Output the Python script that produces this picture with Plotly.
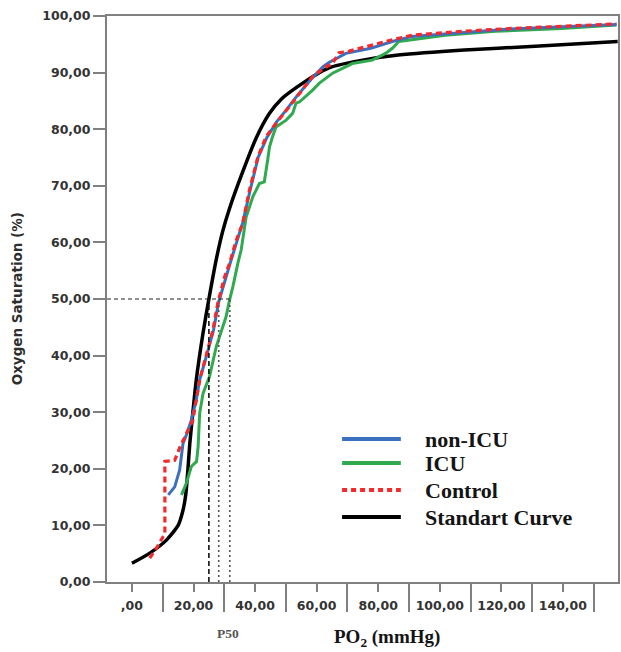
import plotly.graph_objects as go

# ---- data ----
std_x = [0, 5.8, 11.2, 15, 16.6, 17.5, 18.2, 18.8, 19.8, 20.9, 23.1, 25.0, 27.4, 29.5, 31.7, 36, 40.4, 44.7, 48.5, 53, 60.6, 64.9, 75, 86.5, 108, 129.6, 157.8]
std_y = [3.3, 5.1, 7.4, 10, 12.7, 15.5, 20, 24.5, 30, 35.7, 44, 50, 57, 62, 66, 72.5, 78.5, 82.8, 85.3, 87.2, 89.9, 91, 92.2, 93.1, 94, 94.6, 95.5]

ctrl_x = [5.8, 8, 10.1, 10.7, 10.7, 13.9, 15.5, 17.7, 19.8, 22, 24, 26.3, 27.9, 30.1, 31.7, 33.9, 36, 38.2, 40.9, 43.6, 46.8, 50.1, 53.3, 58.7, 63, 65, 67.3, 70.6, 76, 80.3, 84.6, 91, 107.2, 123.4, 139.6, 157.4]
ctrl_y = [4.2, 6, 8.0, 8.5, 21.3, 21.5, 23.7, 26.3, 28.6, 35.7, 40, 44.5, 49.3, 53.9, 56.3, 60.4, 63.4, 69.3, 75.1, 78.7, 81, 83.4, 85.5, 89.3, 91, 91.5, 93.5, 93.8, 94.6, 95.2, 95.8, 96.6, 97.3, 97.8, 98.2, 98.6]

nonicu_x = [11.8, 13.9, 15.5, 16.6, 17.7, 19.3, 20.9, 22, 24, 26.5, 28.2, 30.3, 32, 34, 36, 38.3, 41, 43.8, 47, 50.3, 53.5, 58.5, 62, 64, 69.5, 77.6, 84.6, 91, 107, 123, 140, 157.4]
nonicu_y = [15.4, 16.8, 19.8, 24.5, 26, 28.6, 32.2, 35.7, 39.5, 44.5, 49.5, 53.5, 56.5, 60, 63.5, 69, 75, 78.5, 81.3, 83.5, 85.8, 89.0, 91, 91.8, 93.4, 94.3, 95.5, 96.4, 97.1, 97.7, 98.1, 98.5]

icu_x = [16.1, 17.7, 19.3, 21, 21.5, 22, 23.1, 24.7, 25.2, 27.4, 30.6, 31.7, 32.8, 34.4, 35.5, 37.1, 39.3, 41.4, 43, 44.1, 44.7, 45.7, 46.8, 50.1, 52.2, 53.3, 54.4, 58.7, 60.8, 65.2, 71.6, 78.1, 82.4, 84.6, 86.7, 101.8, 118, 139.6, 157.4]
icu_y = [15.4, 17.5, 20.4, 21.3, 23.9, 29.8, 33.3, 35.7, 36.3, 41.6, 46.9, 49.8, 52.2, 56.3, 58.7, 64.5, 68.1, 70.4, 70.7, 74.6, 76.9, 78.7, 80.4, 81.6, 82.8, 84.6, 84.8, 86.9, 88.1, 89.9, 91.6, 92.2, 93.4, 94.3, 95.5, 96.6, 97.3, 97.8, 98.4]

p50_std = 25.0
p50_groups = [28.2, 31.8]
sat50 = 50

x_ticks = [0, 20, 40, 60, 80, 100, 120, 140]
x_labels = [",00", "20,00", "40,00", "60,00", "80,00", "100,00", "120,00", "140,00"]
x_minor = [10, 30, 50, 70, 90, 110, 130, 150]
y_ticks = [0, 10, 20, 30, 40, 50, 60, 70, 80, 90, 100]
y_labels = ["0,00", "10,00", "20,00", "30,00", "40,00", "50,00", "60,00", "70,00", "80,00", "90,00", "100,00"]

legend_names = ["non-ICU", "ICU", "Control", "Standart Curve"]
BLUE = "#3b6fc0"
GREEN = "#2faa4e"
RED = "#f5282a"
BLACK = "#000000"

fig = go.Figure()
fig.add_trace(go.Scatter(x=std_x, y=std_y, mode="lines", line=dict(color=BLACK, width=3.5, shape="spline", smoothing=0.6), showlegend=False))
fig.add_trace(go.Scatter(x=icu_x, y=icu_y, mode="lines", line=dict(color=GREEN, width=3), showlegend=False))
fig.add_trace(go.Scatter(x=nonicu_x, y=nonicu_y, mode="lines", line=dict(color=BLUE, width=3), showlegend=False))
fig.add_trace(go.Scatter(x=ctrl_x, y=ctrl_y, mode="lines", line=dict(color=RED, width=3.2, dash="6px,4px"), showlegend=False))

# reference lines
fig.add_shape(type="line", xref="x", yref="y", x0=-8.1, x1=p50_groups[-1], y0=sat50, y1=sat50,
              line=dict(color="#222", width=1.2, dash="4px,3px"))
fig.add_shape(type="line", xref="x", yref="y", x0=p50_std, x1=p50_std, y0=0, y1=sat50,
              line=dict(color="#111", width=1.6, dash="5px,3px"))
for p in p50_groups:
    fig.add_shape(type="line", xref="x", yref="y", x0=p, x1=p, y0=0, y1=sat50,
                  line=dict(color="#555", width=1.6, dash="2px,3px"))

# custom legend
L, T, H = 107, 16, 566
W = 513
def px_x(p):
    return (p - L) / W
def px_y(p):
    return (T + H - p) / H
leg_rows = [439, 463, 490, 517]
leg_styles = [dict(color=BLUE, width=4), dict(color=GREEN, width=4),
              dict(color=RED, width=4, dash="5px,4px"), dict(color=BLACK, width=4)]
for name, row, st in zip(legend_names, leg_rows, leg_styles):
    fig.add_shape(type="line", xref="paper", yref="paper", x0=px_x(343), x1=px_x(402),
                  y0=px_y(row), y1=px_y(row), line=st)
    fig.add_annotation(xref="paper", yref="paper", x=px_x(424), y=px_y(row), xanchor="left",
                       yanchor="middle", text="<b>" + name + "</b>", showarrow=False,
                       font=dict(family="Liberation Serif", size=22, color="#141414"))

# titles
fig.add_annotation(xref="paper", yref="paper", x=px_x(17), y=0.5, textangle=-90, showarrow=False,
                   text="<b>Oxygen Saturation (%)</b>", xanchor="center", yanchor="middle",
                   font=dict(family="DejaVu Sans", size=13.5, color="#2e2e2e"))
fig.add_annotation(xref="paper", yref="paper", x=px_x(388), y=px_y(638), showarrow=False,
                   text="<b>PO<sub>2</sub> (mmHg)</b>", xanchor="center", yanchor="middle",
                   font=dict(family="Liberation Serif", size=19, color="#141414"))
fig.add_annotation(xref="paper", yref="paper", x=px_x(228), y=px_y(633), showarrow=False,
                   text="<b>P50</b>", xanchor="center", yanchor="middle",
                   font=dict(family="Liberation Serif", size=13.5, color="#555"))

axis_col = "#808080"
fig.update_layout(
    width=621, height=652,
    margin=dict(l=107, r=1, t=16, b=70),
    plot_bgcolor="white", paper_bgcolor="white",
    xaxis=dict(range=[-8.1, 157.9], showgrid=False, zeroline=False,
               showline=True, linecolor=axis_col, linewidth=2, mirror=True,
               tickmode="array", tickvals=x_ticks, ticktext=x_labels,
               ticks="outside", ticklen=8, tickwidth=2, tickcolor=axis_col,
               ticklabelstandoff=3,
               minor=dict(tickmode="array", tickvals=x_minor, ticks="outside", ticklen=28,
                          tickwidth=2, tickcolor=axis_col, showgrid=False),
               tickfont=dict(family="DejaVu Sans", size=12.5, color="#333333", weight="bold")),
    yaxis=dict(range=[0, 100], showgrid=False, zeroline=False,
               showline=True, linecolor=axis_col, linewidth=2, mirror=True,
               tickmode="array", tickvals=y_ticks, ticktext=y_labels,
               ticks="outside", ticklen=12, tickwidth=2, tickcolor=axis_col,
               tickfont=dict(family="DejaVu Sans", size=12.5, color="#333333", weight="bold")),
)

fig.write_html("out.html", config={"displayModeBar": False},
               post_script="document.body.style.margin='0';document.body.style.overflow='hidden';")
